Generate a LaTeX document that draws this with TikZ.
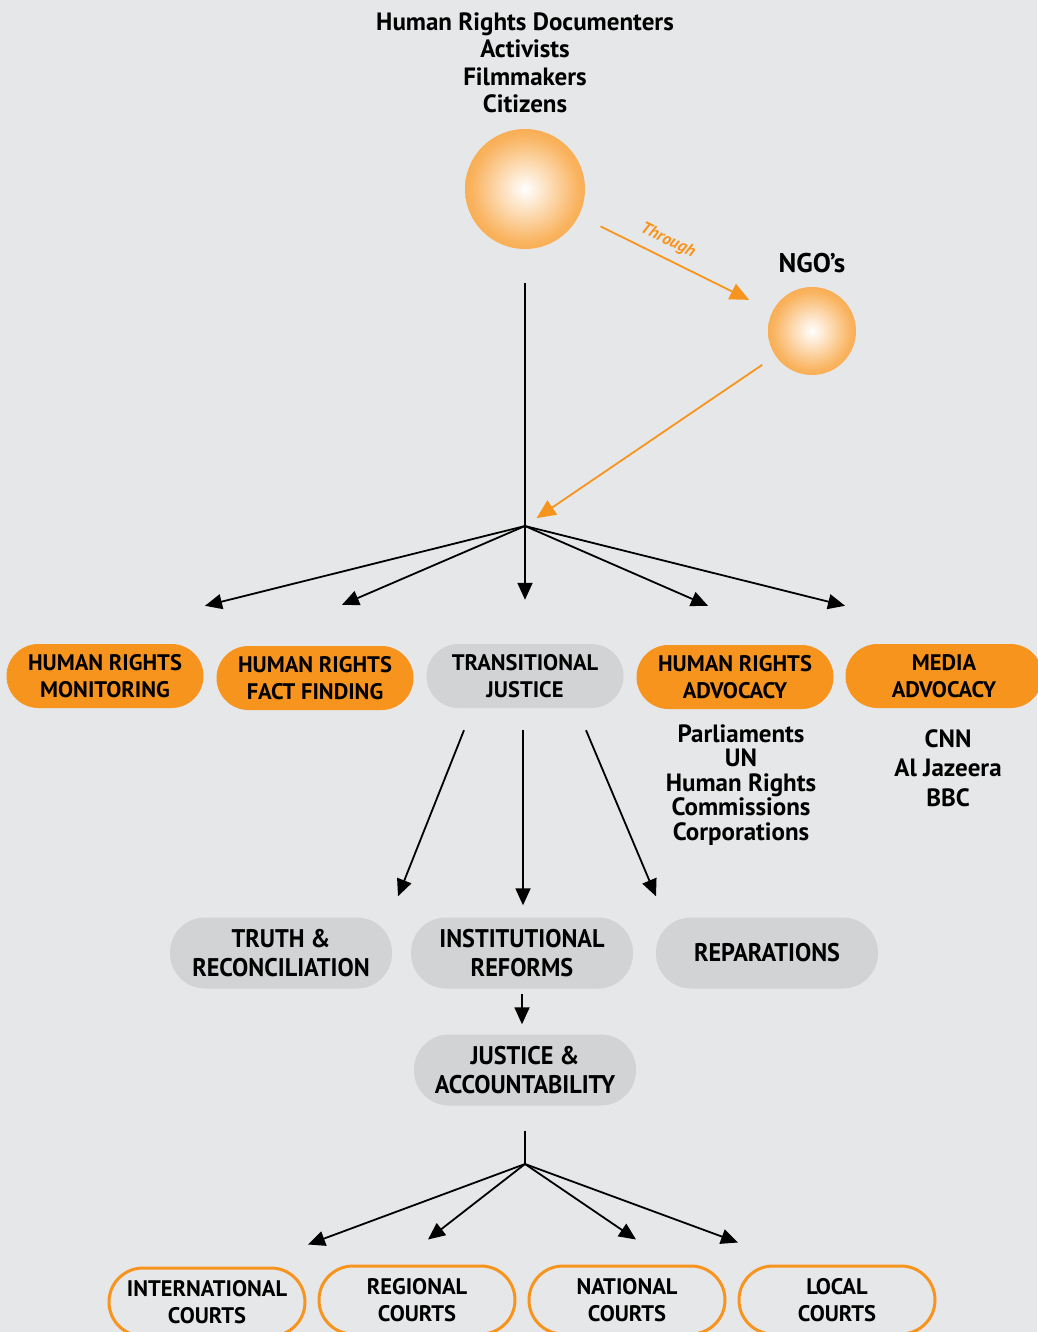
\documentclass[tikz,border=0pt]{standalone}
\usepackage{fontspec}
\setmainfont{PT Sans}
\newfontfamily\narrowsans[FakeStretch=0.95]{PT Sans}
\usepackage{tikz}
\usetikzlibrary{arrows.meta, positioning, calc}
\definecolor{hrOrange}{HTML}{F7941D}
\definecolor{hrGrey}{HTML}{D1D3D4}
\definecolor{hrPaper}{HTML}{E6E7E8}
\pgfdeclareradialshading{hr-glow}{\pgfpoint{0bp}{0bp}}{%
  color(0bp)=(white); color(7bp)=(hrOrange!22!white);
  color(22bp)=(hrOrange!70!white); color(38bp)=(hrOrange);
  color(50bp)=(hrOrange!96!black)}
\tikzset{
  hr-orb/.style={circle, shading=hr-glow, inner sep=0pt},
  hr-task/.style={
    rectangle, rounded corners=32pt, fill=hrOrange, inner sep=0pt,
    minimum height=64pt, minimum width=197pt, align=center,
    font=\bfseries\fontsize{22.5}{27}\selectfont
  },
  hr-phase/.style={hr-task, fill=hrGrey},
  hr-path/.style={
    rectangle, rounded corners=35pt, fill=hrGrey, inner sep=0pt,
    minimum height=71pt, minimum width=222pt, align=center,
    font=\narrowsans\bfseries\fontsize{25.5}{29}\selectfont
  },
  hr-court/.style={
    rectangle, rounded corners=34pt, draw=hrOrange, line width=3pt,
    fill=hrPaper, inner sep=0pt, minimum height=68pt, minimum width=196pt,
    align=center, font=\bfseries\fontsize{22.5}{27}\selectfont
  },
  hr-list/.style={align=center, inner sep=0pt, font=\bfseries\fontsize{25}{24.5}\selectfont},
  hr-flow/.style={-{Triangle[length=17pt, width=15pt]}, line width=1.8pt, draw=black},
  hr-flow-orange/.style={-{Triangle[length=19pt, width=17pt]}, line width=1.8pt, draw=hrOrange},
}

\begin{document}
\begin{tikzpicture}[x=1pt, y=-1pt]
  \fill[hrPaper] (0,0) rectangle (1037,1332);
  \useasboundingbox (0,0) rectangle (1037,1332);

  % who documents
  \node[hr-list, font=\bfseries\fontsize{25}{27.5}\selectfont] (voices) at (525,63)
    {Human Rights Documenters\\Activists\\Filmmakers\\Citizens};
  \node[hr-orb, minimum size=120pt]                 (people) at (525,189) {};
  \node[hr-list, font=\bfseries\fontsize{27}{30}\selectfont] (ngolbl) at (812,263) {NGO’s};
  \node[hr-orb, minimum size=88pt]                  (ngo) at (812,331) {};
  \coordinate (hub) at (525,526);

  \draw[hr-flow-orange, shorten <=24pt, shorten >=26pt] (people) -- (ngo)
    node[pos=0.42, sloped, above=5pt, text=hrOrange,
         font=\bfseries\itshape\fontsize{17}{19}\selectfont] {Through};
  \draw[hr-flow-orange, shorten <=16pt, shorten >=14pt] (ngo) -- (hub);
  \draw[line width=1.8pt, shorten <=34pt] (people.south) -- (hub);

  % first row
  \node[hr-task]  (monitor)  at (105,676) {HUMAN RIGHTS\\MONITORING};
  \node[hr-task]  (fact)     at (315,678) {HUMAN RIGHTS\\FACT FINDING};
  \node[hr-phase] (tj)       at (525,676) {TRANSITIONAL\\JUSTICE};
  \node[hr-task]  (advocacy) at (735,677) {HUMAN RIGHTS\\ADVOCACY};
  \node[hr-task]  (media)    at (944,676) {MEDIA\\ADVOCACY};

  \draw[hr-flow] (hub) -- ($(monitor.north)+(100,-38)$);
  \draw[hr-flow] (hub) -- ($(fact.north)+(27,-41)$);
  \draw[hr-flow] (hub) -- ($(tj.north)+(0,-44)$);
  \draw[hr-flow] (hub) -- ($(advocacy.north)+(-27,-39)$);
  \draw[hr-flow] (hub) -- ($(media.north)+(-99,-38)$);

  \node[hr-list] (bodies) at (741,785)
    {Parliaments\\UN\\Human Rights\\Commissions\\Corporations};
  \node[hr-list, font=\bfseries\fontsize{25}{29.5}\selectfont] (outlets) at (948,768)
    {CNN\\Al Jazeera\\BBC};

  % transitional justice
  \node[hr-path] (truth)       at (281,953)  {TRUTH \&\\RECONCILIATION};
  \node[hr-path] (reforms)     at (522,953)  {INSTITUTIONAL\\REFORMS};
  \node[hr-path] (reparations) at (767,953)  {REPARATIONS};
  \node[hr-path] (justice)     at (525,1070) {JUSTICE \&\\ACCOUNTABILITY};

  \draw[hr-flow] ($(tj.south)+(-61,22)$) -- ($(truth.north)+(117,-21)$);
  \draw[hr-flow] ($(tj.south)+(-2,22)$)  -- ($(reforms.north)+(1,-12)$);
  \draw[hr-flow] ($(tj.south)+(61,22)$)  -- ($(reparations.north)+(-111,-21)$);
  \draw[hr-flow, shorten <=5pt, shorten >=10pt] (reforms.south) -- (reforms.south |- justice.north);

  % courts
  \coordinate (courthub) at (525,1164);
  \node[hr-court] (intl)     at (207,1302) {INTERNATIONAL\\COURTS};
  \node[hr-court] (regional) at (417,1300) {REGIONAL\\COURTS};
  \node[hr-court] (national) at (627,1300) {NATIONAL\\COURTS};
  \node[hr-court] (local)    at (837,1300) {LOCAL\\COURTS};

  \draw[line width=1.8pt, shorten <=25pt] (justice.south) -- (courthub);
  \draw[hr-flow] (courthub) -- ($(intl.north)+(101,-22)$);
  \draw[hr-flow] (courthub) -- ($(regional.north)+(11,-25)$);
  \draw[hr-flow] (courthub) -- ($(national.north)+(9,-25)$);
  \draw[hr-flow] (courthub) -- ($(local.north)+(-99,-22)$);
\end{tikzpicture}
\end{document}
